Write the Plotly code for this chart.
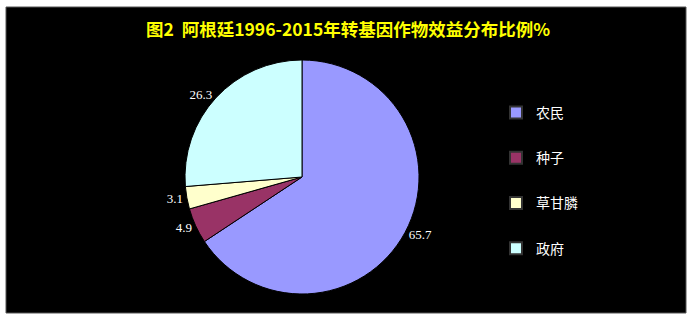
import plotly.graph_objects as go

title_text = "图2  阿根廷1996-2015年转基因作物效益分布比例%"
labels = ["农民", "种子", "草甘膦", "政府"]
values = [65.7, 4.9, 3.1, 26.3]
colors = ["#9999FF", "#993366", "#FFFFCC", "#CCFFFF"]

W, H = 691, 319

fig = go.Figure()

fig.add_trace(go.Pie(
    labels=labels,
    values=values,
    sort=False,
    direction="clockwise",
    rotation=0,
    marker=dict(colors=colors, line=dict(color="#000000", width=1)),
    textinfo="value",
    texttemplate="%{value}",
    textposition="outside",
    outsidetextfont=dict(family="Liberation Serif", size=13, color="#FFFFFF"),
    showlegend=False,
    domain=dict(x=[185 / W, 419 / W], y=[(H - 294) / H, (H - 60) / H]),
    hoverinfo="label+value",
))

for i, (lab, col) in enumerate(zip(labels, colors)):
    fig.add_trace(go.Scatter(
        x=[None], y=[None], mode="markers", name=lab,
        legendgroup=f"g{i}",
        marker=dict(symbol="square", size=8, color=col, line=dict(color="#333333", width=1)),
        showlegend=True,
    ))

fig.update_layout(
    width=W, height=H,
    margin=dict(l=0, r=0, t=0, b=0),
    paper_bgcolor="#FFFFFF",
    plot_bgcolor="rgba(0,0,0,0)",
    xaxis=dict(visible=False),
    yaxis=dict(visible=False),
    title=dict(
        text="<b>" + title_text + "</b>",
        x=348 / W, xanchor="center",
        y=1 - 30 / H, yanchor="middle",
        font=dict(family="Noto Sans CJK SC", size=17.5, color="#FFFF00"),
    ),
    legend=dict(
        x=496 / W, xanchor="left",
        y=1 - 97 / H, yanchor="top",
        font=dict(family="Noto Sans CJK SC", size=14, color="#FFFFFF"),
        bgcolor="rgba(0,0,0,0)",
        tracegroupgap=24,
        itemsizing="constant",
    ),
    shapes=[dict(
        type="rect", xref="paper", yref="paper",
        x0=6 / W, x1=686 / W, y0=1 - 313 / H, y1=1 - 7 / H,
        fillcolor="#000000", line=dict(color="#555555", width=1),
        layer="below",
    )],
)

fig.write_html("out.html")
